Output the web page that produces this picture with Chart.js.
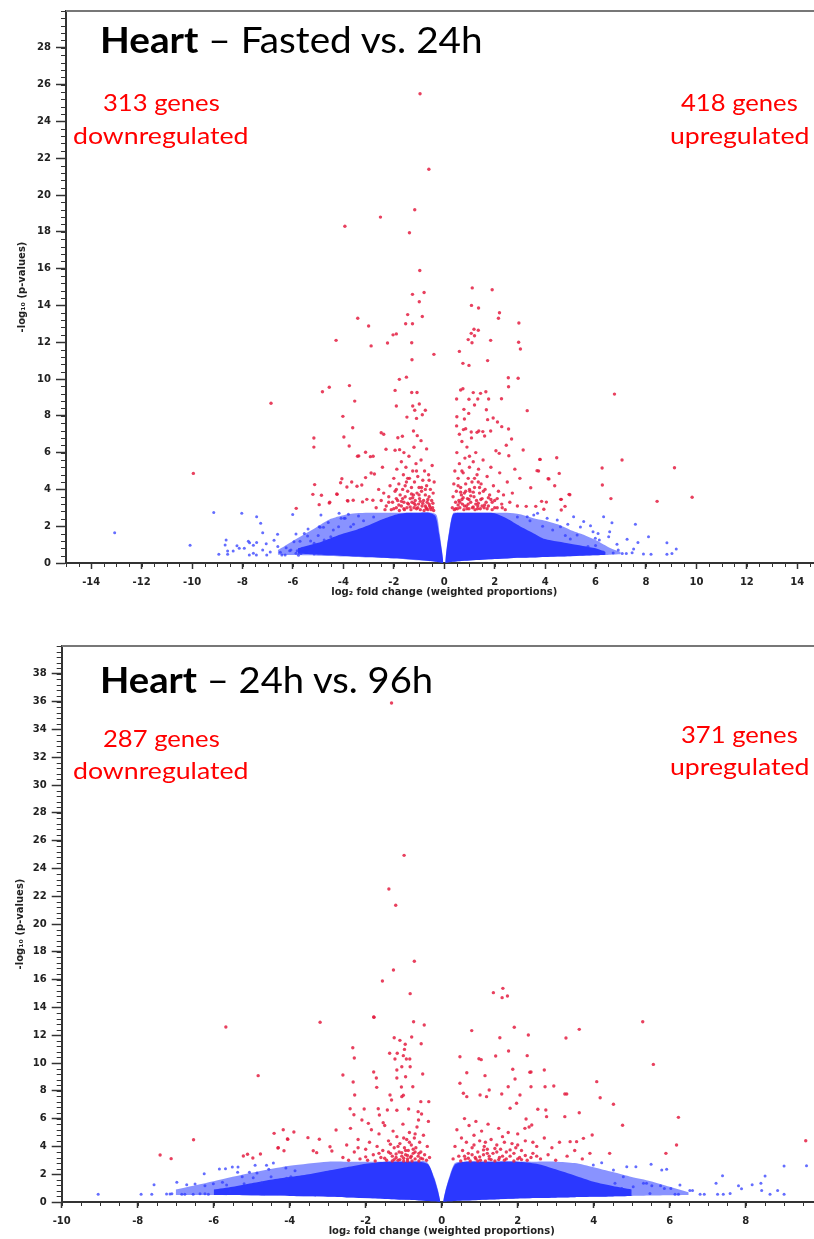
<!DOCTYPE html>
<html>
<head>
<meta charset="utf-8">
<title>Heart volcano plots</title>
<script src="https://cdn.jsdelivr.net/npm/chart.js@4.4.1/dist/chart.umd.min.js"></script>
<style>
  html, body { margin: 0; padding: 0; background: #fff; }
  body { width: 814px; height: 1239px; overflow: hidden; position: relative; }
  .panel { position: absolute; left: 0; }
  .label { position: absolute; white-space: nowrap; line-height: 1; transform-origin: 0 0;
           font-family: Lato, "Open Sans", sans-serif; }
  .title { font-size: 37px; color: #000; }
  .title b { font-weight: 700; }
  .note { font-size: 23px; color: #ff0000; }
  .base-marker { display: inline-block; width: 0; height: 0; vertical-align: baseline; }
</style>
</head>
<body>
<canvas id="fastedChart" class="panel" width="840" height="605" style="top:0"></canvas>
<canvas id="laterChart" class="panel" width="840" height="619" style="top:620px"></canvas>

<div class="label title" data-left="100" data-base="53.3" data-fit="383"><b>Heart</b> – Fasted vs. 24h</div>
<div class="label note" data-center="161" data-base="110.8" data-fit="117">313 genes</div>
<div class="label note" data-center="160" data-base="143.8" data-fit="175">downregulated</div>
<div class="label note" data-center="739" data-base="110.8" data-fit="117">418 genes</div>
<div class="label note" data-center="739.5" data-base="143.8" data-fit="139">upregulated</div>

<div class="label title" data-left="100" data-base="692.7" data-fit="333"><b>Heart</b> – 24h vs. 96h</div>
<div class="label note" data-center="161" data-base="747.3" data-fit="117">287 genes</div>
<div class="label note" data-center="160" data-base="779.2" data-fit="175">downregulated</div>
<div class="label note" data-center="739" data-base="742.8" data-fit="117">371 genes</div>
<div class="label note" data-center="739.5" data-base="775.4" data-fit="139">upregulated</div>

<script>
// ---------------------------------------------------------------
// Data: [log2 fold change, -log10 p-value]
// ---------------------------------------------------------------

// Top panel: Fasted vs. 24h
const fastedDownGenes = [
  [-0.96,25.5],[-0.61,21.4],[-1.17,19.2],[-2.53,18.8],[-3.94,18.3],[-1.38,17.95],[-0.97,15.9],
  [-1.26,14.6],[-0.8,14.7],[-0.99,14.2],[-1.45,13.5],[-0.87,13.4],[-3.43,13.3],[-3.0,12.88],
  [-1.53,13.0],[-1.26,13.0],[-4.29,12.1],[-2.9,11.8],[-2.25,11.96],[-2.03,12.4],[-1.9,12.45],
  [-1.29,11.97],[-1.28,11.05],[-0.41,11.34],[-1.78,9.98],[-1.5,10.1],[-1.95,9.38],[-1.29,9.27],
  [-1.08,9.27],[-4.83,9.31],[-4.56,9.55],[-3.76,9.64],[-3.55,8.8],[-6.87,8.68],[-1.9,8.53],
  [-1.25,8.53],[-0.99,8.64],[-1.17,8.3],[-0.75,8.3],[-0.87,8.06],[-1.48,7.93],[-1.1,7.86],
  [-4.02,7.97],[-3.63,7.35],[-5.17,6.79],[-5.17,6.3],[-3.98,6.85],[-3.77,6.36],[-2.5,7.08],
  [-2.4,7.0],[-1.84,6.81],[-1.66,6.89],[-1.07,6.92],[-0.92,6.65],[-1.22,7.17],[-3.39,5.82],
  [-3.12,6.02],[-2.82,5.8],[-2.31,6.18],[-1.95,6.13],[-1.77,6.16],[-1.2,6.29],[-9.95,4.87],
  [-5.14,4.26],[-5.21,3.73],[-4.87,3.68],[-4.96,3.17],[-4.54,3.3],[-5.87,2.97],[-4.06,4.58],
  [-4.11,4.36],[-4.25,3.73],[-3.82,3.37],[-3.61,3.41],[-3.86,4.13],[-3.67,4.4],[-3.46,4.17],
  [-3.27,4.24],[-3.12,4.64],[-2.9,4.89],[-2.77,4.84],[-3.24,3.32],[-3.07,3.46],[-2.83,3.41],
  [-3.44,5.8],[-2.93,5.78],[-4.26,3.75],[-4.56,3.26],[-3.84,3.39],
  [-2.3,3.1],[-2.2,3.6],[-2.15,4.2],[-2.1,2.9],[-2.05,3.3],[-2.0,4.6],[-1.95,3.9],[-1.9,3.0],
  [-1.88,5.1],[-1.85,3.4],[-1.8,4.3],[-1.78,2.85],[-1.75,3.7],[-1.7,5.5],[-1.7,3.1],[-1.65,4.0],
  [-1.62,4.8],[-1.6,3.3],[-1.58,2.9],[-1.55,3.6],[-1.52,5.2],[-1.5,4.4],[-1.48,3.0],[-1.45,3.9],
  [-1.42,3.2],[-1.4,5.8],[-1.38,4.6],[-1.35,3.5],[-1.32,2.9],[-1.3,4.1],[-1.28,3.3],[-1.25,5.0],
  [-1.22,3.7],[-1.2,3.0],[-1.18,4.4],[-1.15,3.4],[-1.12,5.4],[-1.1,2.95],[-1.08,3.8],[-1.05,4.7],
  [-1.02,3.2],[-1.0,4.1],[-0.98,3.5],[-0.95,2.9],[-0.92,5.6],[-0.9,3.9],[-0.88,3.1],[-0.85,4.5],
  [-0.82,3.4],[-0.8,2.85],[-0.78,5.0],[-0.75,3.7],[-0.72,3.0],[-0.7,4.2],[-0.68,3.3],[-0.65,2.9],
  [-0.62,4.8],[-0.6,3.6],[-0.58,3.1],[-0.55,4.0],[-0.52,2.9],[-0.5,3.4],[-0.48,5.3],[-0.46,3.0],
  [-0.44,3.8],[-0.42,2.85],[-0.4,4.4],[-2.6,4.0],[-2.45,5.2],[-2.7,3.0],[-1.6,6.0],[-0.7,6.2],
  [-2.5,3.4],[-2.35,2.9],[-1.9,3.5],[-1.7,3.35],[-1.45,3.25],[-1.25,3.55],[-1.05,3.0],[-0.85,3.25],
  [-0.65,3.45],[-0.55,3.0],[-1.55,4.2],[-1.0,3.7],[-0.75,4.0],
  [-2.0,2.95],[-1.8,3.15],[-1.6,2.95],[-1.35,3.05],[-1.15,3.15],[-0.95,3.35],[-0.75,3.1],
  [-0.6,3.2],[-0.45,3.25],[-1.9,4.0],[-1.3,3.75],[-0.9,4.1],[-1.45,4.6],[-1.1,5.0],[-0.6,4.5],
  [-2.2,3.3],[-2.4,3.8],[-1.65,3.5],[-1.2,3.25],[-0.7,2.95]
];
const fastedUpGenes = [
  [1.11,14.95],[1.9,14.85],[1.08,14.0],[1.36,13.86],[2.19,13.6],[2.15,13.3],[0.6,11.5],
  [0.74,10.85],[0.98,10.74],[2.96,13.04],[2.95,12.0],[3.02,11.63],[1.18,12.7],[1.35,12.65],
  [1.07,12.48],[1.2,12.35],[1.1,11.97],[0.95,12.14],[1.84,12.1],[1.72,11.0],[2.54,10.07],
  [2.93,10.04],[2.55,9.58],[3.29,8.28],[0.65,9.4],[0.74,9.47],[0.49,8.91],[0.98,8.9],[1.15,9.26],
  [1.33,8.91],[1.44,9.22],[1.65,9.31],[1.76,8.91],[2.27,8.93],[0.78,8.35],[0.97,8.13],[1.2,8.59],
  [1.67,8.33],[1.94,7.88],[2.11,7.66],[2.28,7.41],[2.55,7.28],[0.5,7.95],[0.8,7.83],[0.49,7.45],
  [0.76,7.25],[1.07,7.12],[1.37,7.17],[1.53,7.14],[1.72,7.79],[1.84,7.17],[3.13,6.14],[2.67,6.74],
  [2.46,6.4],[2.18,5.96],[2.56,5.83],[3.79,5.63],[4.46,5.72],[3.74,5.0],[4.56,4.87],[4.15,4.57],
  [4.38,4.2],[3.43,4.09],[3.86,3.35],[4.05,3.31],[4.64,3.46],[4.79,3.08],[4.95,3.73],[3.25,3.08],
  [3.63,3.08],[3.95,2.92],[4.64,2.88],[6.75,9.18],[7.05,5.6],[9.13,5.18],[9.83,3.57],[8.44,3.35],
  [6.26,5.16],[6.27,4.24],[6.61,3.5],[3.8,5.63],[4.98,3.71],[4.62,3.46],[4.12,4.58],[3.68,5.02],
  [0.32,3.0],[0.35,3.6],[0.38,4.3],[0.4,2.9],[0.42,5.0],[0.45,3.3],[0.48,3.9],[0.5,6.0],[0.52,2.95],
  [0.55,4.6],[0.58,3.4],[0.6,5.4],[0.62,3.0],[0.65,4.1],[0.68,3.7],[0.7,6.6],[0.72,3.2],[0.75,4.9],
  [0.78,2.9],[0.8,3.8],[0.82,5.7],[0.85,4.3],[0.88,3.1],[0.9,6.3],[0.92,3.5],[0.95,4.6],[0.98,2.95],
  [1.0,5.2],[1.02,3.9],[1.05,3.3],[1.08,6.8],[1.1,4.4],[1.12,3.0],[1.15,5.5],[1.18,3.6],[1.2,4.1],
  [1.22,2.9],[1.25,6.0],[1.28,3.4],[1.3,4.8],[1.33,3.1],[1.36,5.1],[1.4,3.8],[1.43,2.95],[1.46,4.3],
  [1.5,3.5],[1.54,5.6],[1.58,3.0],[1.62,4.0],[1.66,3.3],[1.7,4.7],[1.75,3.1],[1.8,3.7],[1.85,5.2],
  [1.9,2.9],[1.95,4.2],[2.0,3.4],[2.05,6.1],[2.1,3.0],[2.15,3.9],[2.2,4.9],[2.28,3.2],[2.35,3.7],
  [2.42,2.9],[2.5,4.4],[2.6,3.3],[2.7,3.8],[2.8,5.1],[2.9,3.1],[3.0,4.6],[0.6,7.0],[0.85,7.3],
  [1.3,7.1],[1.6,6.9],[0.95,3.2],[1.15,3.05],[0.7,3.45],[1.35,3.25],
  [0.55,3.15],[0.75,3.55],[0.9,2.95],[1.05,3.65],[1.25,3.2],[1.45,3.45],[1.6,3.15],[1.75,3.55],
  [1.9,3.3],[2.1,3.5],[0.65,3.85],[1.0,4.0],[1.4,4.1],[2.3,3.0],
  [0.45,2.95],[0.62,3.3],[0.8,3.1],[0.98,3.45],[1.15,3.85],[1.32,2.95],[1.5,3.1],[1.7,2.95],
  [1.85,3.45],[2.0,3.0],[0.55,4.2],[0.85,3.9],[1.2,4.6],[1.55,3.9],[0.7,5.0],[1.0,5.8],[1.35,4.4]
];
const fastedOtherGenes = [
  [-13.07,1.65],[-10.08,0.96],[-9.14,2.75],[-8.94,0.47],[-8.65,1.25],[-8.69,0.98],[-8.59,0.65],
  [-8.59,0.47],[-8.37,0.65],[-8.22,0.94],[-8.13,0.8],[-8.03,2.7],[-7.93,0.8],[-7.77,1.18],
  [-7.72,1.1],[-7.73,0.43],[-7.57,0.53],[-7.45,0.43],[-7.57,0.96],[-7.44,1.12],[-7.44,2.52],
  [-7.28,2.16],[-7.2,1.65],[-7.06,1.05],[-7.04,0.43],[-6.75,1.23],[-6.61,1.56],[-6.5,0.58],
  [-6.44,0.43],[-6.31,0.43],[-6.27,0.83],[-6.13,0.67],[-6.08,0.71],[-6.01,2.63],[-5.96,1.16],
  [-5.88,1.58],[-5.88,0.53],[-5.83,0.67],[-5.78,0.42],[-5.72,1.18],[-5.55,1.61],[-5.42,1.47],
  [-4.96,1.97],[-4.89,2.61],[-5.16,1.07],[-4.76,1.25],[-4.5,1.43],[-4.17,2.7],[-3.97,2.43],
  [-3.71,1.97],[-5.68,0.52],[-5.62,0.8],[-5.36,0.61],[-5.16,0.49],[-4.92,1.94],[-4.79,1.94],
  [-4.19,1.97],[-4.09,2.43],[-3.93,2.43],[-3.2,2.3],[-2.8,2.5],[-3.6,2.1],[-4.4,1.8],[-5.0,1.5],
  [-5.3,1.2],[-6.6,0.9],[-6.9,0.6],[-7.2,0.7],[-4.6,2.2],[-3.8,2.65],[-3.4,2.55],[-5.4,1.85],
  [7.58,2.1],[8.1,1.43],[8.83,1.1],[9.2,0.76],[8.2,0.47],[7.9,0.49],[8.83,0.47],[9.03,0.51],
  [7.06,0.51],[7.22,0.51],[7.45,0.56],[7.51,0.76],[7.68,1.12],[7.25,1.29],[6.85,1.02],[6.52,1.43],
  [6.65,2.19],[6.32,2.52],[6.56,1.7],[5.53,2.25],[5.8,2.03],[5.9,1.7],[5.99,1.34],[6.15,1.25],
  [5.13,2.52],[4.61,1.97],[5.27,1.52],[4.48,2.34],[4.08,2.43],[3.55,2.61],[3.29,2.52],[6.3,0.6],
  [6.7,0.55],[6.9,0.7],[5.7,0.9],[6.0,0.95],[4.8,1.5],[5.0,1.3],[4.3,1.8],[3.9,2.0],[3.4,2.3],[2.9,2.5],
  [3.7,2.7],[4.9,2.1],[5.4,1.95],[6.1,1.6]
];
// dense cloud of non-significant genes, traced as lower/upper outlines
const fastedLeftHaloX  = [-6.6, -6.0, -5.5, -5.0, -4.5, -4.0, -3.5, -3.0, -2.0, -1.0, -0.5, -0.3, -0.18, -0.1, -0.04];
const fastedLeftHaloHi = [0.7, 1.2, 1.6, 2.0, 2.4, 2.6, 2.7, 2.73, 2.73, 2.73, 2.73, 2.6, 1.6, 0.8, 0.1];
const fastedLeftHaloLo = [0.45, 0.43, 0.42, 0.4, 0.38, 0.35, 0.33, 0.3, 0.25, 0.15, 0.1, 0.07, 0.04, 0.02, 0];
const fastedLeftCoreX  = [-5.8, -5.0, -4.5, -4.0, -3.5, -3.0, -2.5, -2.0, -1.5, -1.0, -0.6, -0.35, -0.2, -0.1, -0.04];
const fastedLeftCoreHi = [0.8, 1.1, 1.35, 1.6, 1.8, 2.05, 2.35, 2.6, 2.73, 2.73, 2.73, 2.55, 1.55, 0.7, 0.1];
const fastedLeftCoreLo = [0.5, 0.45, 0.42, 0.38, 0.35, 0.32, 0.29, 0.26, 0.22, 0.16, 0.11, 0.07, 0.04, 0.02, 0];
const fastedRightHaloX  = [0.04, 0.1, 0.2, 0.35, 0.6, 1.5, 2.5, 3.0, 3.5, 4.0, 4.5, 5.0, 5.5, 6.0, 6.6, 7.0];
const fastedRightHaloHi = [0.1, 0.85, 1.8, 2.7, 2.73, 2.73, 2.73, 2.65, 2.45, 2.3, 2.1, 1.8, 1.55, 1.25, 0.8, 0.6];
const fastedRightHaloLo = [0, 0.02, 0.04, 0.07, 0.1, 0.18, 0.25, 0.28, 0.3, 0.33, 0.35, 0.37, 0.4, 0.42, 0.45, 0.47];
const fastedRightCoreX  = [0.04, 0.1, 0.2, 0.35, 0.6, 1.0, 1.5, 2.0, 2.5, 3.0, 3.5, 4.0, 5.0, 6.0, 6.4];
const fastedRightCoreHi = [0.1, 0.8, 1.7, 2.65, 2.73, 2.73, 2.73, 2.7, 2.4, 2.0, 1.65, 1.3, 1.05, 0.8, 0.6];
const fastedRightCoreLo = [0, 0.02, 0.04, 0.07, 0.1, 0.14, 0.18, 0.22, 0.25, 0.28, 0.3, 0.33, 0.37, 0.42, 0.45];

// Bottom panel: 24h vs. 96h
const laterDownGenes = [
  [-1.32,35.9],[-0.99,24.94],[-1.39,22.52],[-1.21,21.35],[-0.72,17.32],[-1.27,16.69],[-1.56,15.9],
  [-0.83,14.99],[-1.78,13.29],[-5.68,12.59],[-3.2,12.93],[-1.79,13.31],[-0.74,12.97],[-0.46,12.73],
  [-4.83,9.09],[-6.53,4.48],[-7.41,3.38],[-7.12,3.12],[-1.25,11.82],[-1.1,11.63],[-0.96,11.35],
  [-0.79,11.87],[-0.54,11.39],[-1.37,10.7],[-1.23,10.29],[-1.01,10.53],[-0.93,10.29],[-0.84,10.29],
  [-0.98,10.98],[-2.34,11.1],[-2.3,10.36],[-2.6,9.14],[-2.33,8.63],[-2.29,7.7],[-1.79,9.35],
  [-1.72,8.92],[-1.71,8.25],[-1.18,9.5],[-1.18,8.92],[-1.05,9.73],[-0.95,9.01],[-0.76,8.29],
  [-0.5,9.21],[-1.06,8.27],[-1.36,7.7],[-1.32,7.34],[-1.05,7.58],[-1.01,7.68],[-0.55,7.22],
  [-0.34,7.22],[-2.41,6.71],[-2.04,6.69],[-1.67,6.71],[-2.31,6.28],[-1.93,5.66],[-1.64,6.26],
  [-1.54,5.71],[-1.43,6.62],[-1.18,6.6],[-0.87,6.69],[-0.62,6.5],[-0.53,6.33],[-0.61,5.9],
  [-4.41,4.94],[-4.17,5.2],[-3.89,5.04],[-4.31,3.88],[-4.15,3.69],[-4.05,4.51],[-3.52,4.63],
  [-3.22,4.51],[-3.38,3.69],[-3.29,3.55],[-5.22,3.31],[-5.11,3.43],[-4.97,3.17],[-4.77,3.45],
  [-2.78,5.18],[-2.94,3.98],[-2.89,3.67],[-1.17,10.7],[-0.83,9.73],[-4.3,3.91],[-4.06,4.53],
  [-2.6,3.2],[-2.5,4.1],[-2.45,3.0],[-2.4,5.3],[-2.3,3.6],[-2.2,4.5],[-2.15,3.1],[-2.1,5.9],
  [-2.0,3.8],[-1.95,3.0],[-1.9,4.3],[-1.85,5.2],[-1.8,3.4],[-1.75,2.95],[-1.7,4.0],[-1.65,4.9],
  [-1.6,3.2],[-1.55,3.7],[-1.5,5.5],[-1.45,3.0],[-1.4,4.4],[-1.35,3.5],[-1.3,2.95],[-1.28,5.1],
  [-1.25,3.9],[-1.2,3.2],[-1.18,4.7],[-1.15,3.0],[-1.12,3.6],[-1.1,4.2],[-1.05,3.3],[-1.02,5.6],
  [-1.0,2.95],[-0.98,3.9],[-0.95,3.4],[-0.92,4.5],[-0.9,3.1],[-0.88,3.7],[-0.85,5.0],[-0.82,3.2],
  [-0.8,4.1],[-0.78,2.95],[-0.75,3.5],[-0.72,4.6],[-0.7,3.1],[-0.68,3.9],[-0.65,5.4],[-0.62,3.3],
  [-0.6,2.95],[-0.58,4.3],[-0.55,3.6],[-0.5,3.1],[-0.48,4.8],[-0.45,3.4],[-0.4,3.0],[-0.38,4.0],
  [-0.35,5.8],[-0.32,3.2],[-1.1,3.05],[-0.9,3.35],[-1.3,3.3],[-0.7,3.6],
  [-1.2,3.45],[-1.0,3.15],[-0.8,3.3],[-0.6,3.5],[-1.4,3.6],[-0.95,3.7],[-1.15,4.0],[-0.85,4.3],
  [-1.25,3.05],[-1.05,3.55],[-0.9,2.95],[-0.75,3.8],[-0.55,3.15],[-1.5,3.15],[-1.65,3.5],
  [-1.35,4.15],[-1.0,4.6],[-0.7,4.9],[-2.0,3.25],[-2.2,3.9]
];
const laterUpGenes = [
  [1.36,15.06],[1.61,15.37],[1.59,14.7],[1.73,14.82],[0.79,12.33],[1.91,12.57],[1.53,11.82],
  [2.28,12.01],[3.27,11.8],[0.48,10.45],[0.98,10.31],[1.04,10.24],[0.66,9.3],[1.14,9.09],
  [1.42,10.5],[1.76,10.86],[1.87,9.55],[1.93,8.85],[2.35,9.35],[2.25,10.53],[2.7,9.5],[2.95,8.35],
  [3.24,7.77],[0.48,8.54],[0.57,7.82],[0.66,7.58],[1.01,7.7],[1.18,7.58],[1.25,8.06],[1.58,7.77],
  [1.75,8.29],[2.06,7.7],[2.35,8.29],[2.72,8.29],[1.97,7.1],[1.8,6.74],[2.22,5.97],[2.53,6.67],
  [2.74,6.62],[2.76,6.14],[2.37,5.54],[2.19,5.3],[5.29,12.97],[5.57,9.9],[4.08,8.66],[4.17,7.5],
  [4.52,7.03],[4.76,5.52],[6.23,6.09],[6.18,4.1],[5.9,3.5],[4.42,3.5],[9.58,4.41],[3.96,4.82],
  [3.73,4.58],[3.55,4.34],[3.38,4.34],[3.24,6.14],[3.29,7.77],[3.62,6.42],[3.62,12.42],[2.32,9.33],
  [0.3,3.1],[0.35,4.0],[0.4,5.2],[0.45,3.3],[0.5,2.95],[0.52,4.6],[0.55,3.7],[0.6,6.0],[0.62,3.1],
  [0.65,4.3],[0.7,3.5],[0.72,5.5],[0.75,2.95],[0.8,3.9],[0.85,4.8],[0.88,3.2],[0.9,5.8],[0.95,3.6],
  [1.0,4.4],[1.02,3.0],[1.05,5.1],[1.1,3.4],[1.12,4.0],[1.15,2.95],[1.2,3.8],[1.22,5.6],[1.25,3.1],
  [1.3,4.5],[1.35,3.5],[1.4,2.95],[1.45,4.1],[1.5,5.3],[1.52,3.2],[1.55,3.8],[1.6,4.7],[1.65,3.0],
  [1.7,3.6],[1.75,5.0],[1.8,3.3],[1.85,4.2],[1.9,2.95],[1.95,3.9],[2.0,4.9],[2.05,3.2],[2.1,3.7],
  [2.2,4.4],[2.25,3.0],[2.3,5.4],[2.4,3.5],[2.5,4.0],[2.6,3.1],[2.7,4.6],[2.8,3.4],[2.9,3.9],
  [3.0,3.0],[3.1,4.3],[3.3,3.3],[3.5,3.7],[3.7,3.1],[3.9,3.5],[1.0,3.25],[1.3,3.05],[0.8,3.4],[1.6,3.3],
  [0.6,3.3],[0.9,3.1],[1.2,3.5],[1.5,3.05],[1.8,3.75],[2.0,3.1],[2.2,3.35],[2.5,3.3],[1.1,3.75],
  [0.7,3.15],[0.95,2.95],[1.25,3.3],[1.45,3.6],[1.7,3.1],[1.9,3.5],[2.1,3.05],[2.35,3.2],
  [0.85,4.1],[1.15,4.3],[1.4,3.85],[1.65,4.3],[2.0,4.1],[2.4,4.3]
];
const laterOtherGenes = [
  [-9.04,0.55],[-7.91,0.55],[-7.63,0.55],[-7.57,1.25],[-7.24,0.57],[-7.15,0.57],[-7.1,0.6],
  [-6.97,1.42],[-6.84,0.55],[-6.76,0.55],[-6.71,1.25],[-6.54,0.55],[-6.49,1.29],[-6.25,2.04],
  [-6.36,0.6],[-6.23,0.6],[-6.14,0.55],[-6.23,1.17],[-6.01,1.32],[-5.85,2.37],[-5.69,2.4],
  [-5.77,1.42],[-5.66,1.22],[-5.57,0.79],[-5.51,2.52],[-5.36,2.52],[-5.37,2.14],[-5.25,1.82],
  [-5.2,1.32],[-5.06,2.14],[-4.96,1.75],[-4.91,2.64],[-4.86,2.09],[-4.74,1.37],[-4.61,2.64],
  [-4.55,2.35],[-4.49,1.82],[-4.43,2.81],[-4.1,2.45],[-4.08,1.7],[-3.86,2.25],[-3.97,1.82],
  [5.51,2.71],[5.79,2.3],[5.92,2.35],[6.27,1.22],[6.03,0.98],[6.14,0.55],[6.23,0.55],[6.53,0.82],
  [6.6,0.82],[6.8,0.55],[6.91,0.55],[7.22,1.34],[7.26,0.55],[7.39,1.89],[7.41,0.55],[7.59,0.62],
  [7.81,1.17],[7.89,0.96],[8.17,1.25],[8.4,1.34],[8.51,1.87],[8.42,0.82],[8.64,0.55],[8.84,0.82],
  [9.01,0.55],[9.01,2.59],[3.99,2.66],[4.21,2.83],[4.52,2.3],[4.78,1.82],[4.87,2.54],[5.11,2.54],
  [5.39,1.34],[5.53,1.17],[5.76,1.17],[5.48,0.62],[5.86,0.98],[4.56,1.34],[4.74,0.98],[5.04,1.1],
  [5.31,1.34],[9.6,2.6]
];
const laterLeftHaloX  = [-7.0, -6.0, -5.0, -4.0, -3.0, -2.5, -1.5, -0.8, -0.4, -0.2, -0.1, -0.04];
const laterLeftHaloHi = [0.9, 1.5, 2.1, 2.6, 2.9, 2.9, 2.9, 2.9, 2.9, 1.8, 0.9, 0.1];
const laterLeftHaloLo = [0.5, 0.5, 0.47, 0.44, 0.38, 0.33, 0.22, 0.14, 0.08, 0.05, 0.03, 0];
const laterLeftCoreX  = [-6.0, -5.5, -5.0, -4.5, -4.0, -3.5, -3.0, -2.5, -2.0, -1.5, -1.0, -0.6, -0.35, -0.2, -0.1, -0.04];
const laterLeftCoreHi = [0.9, 1.1, 1.35, 1.6, 1.8, 2.0, 2.25, 2.5, 2.75, 2.9, 2.9, 2.9, 2.7, 1.7, 0.8, 0.1];
const laterLeftCoreLo = [0.5, 0.5, 0.48, 0.46, 0.44, 0.41, 0.38, 0.33, 0.28, 0.22, 0.16, 0.11, 0.07, 0.05, 0.03, 0];
const laterRightHaloX  = [0.04, 0.1, 0.2, 0.35, 0.6, 2.5, 3.0, 3.5, 4.0, 4.5, 5.0, 5.5, 6.0, 6.5];
const laterRightHaloHi = [0.1, 0.85, 1.8, 2.8, 2.9, 2.9, 2.9, 2.8, 2.5, 2.15, 1.8, 1.5, 1.1, 0.7];
const laterRightHaloLo = [0, 0.03, 0.05, 0.07, 0.1, 0.28, 0.31, 0.34, 0.37, 0.4, 0.43, 0.46, 0.48, 0.5];
const laterRightCoreX  = [0.04, 0.1, 0.2, 0.35, 0.6, 1.0, 1.5, 2.0, 2.5, 3.0, 3.5, 4.0, 4.5, 5.0];
const laterRightCoreHi = [0.1, 0.8, 1.7, 2.7, 2.9, 2.9, 2.9, 2.9, 2.75, 2.35, 1.9, 1.45, 1.15, 0.9];
const laterRightCoreLo = [0, 0.03, 0.05, 0.07, 0.1, 0.15, 0.2, 0.25, 0.28, 0.31, 0.34, 0.37, 0.4, 0.43];

// ---------------------------------------------------------------
// Chart construction
// ---------------------------------------------------------------
const VolcanoPage = (function() {
  'use strict';

  const COLORS = {
    sig: 'rgba(228, 30, 66, 0.85)',
    other: 'rgba(48, 60, 255, 0.75)',
    core: 'rgba(38, 52, 255, 0.95)',
    halo: 'rgba(64, 80, 255, 0.62)',
    axis: '#333',
    frame: '#777',
    text: '#222'
  };

  const AXIS_FONT = { family: 'DejaVu Sans', weight: 'bold', size: 10 };

  function toPoints(pairs) {
    return pairs.map(p => ({ x: p[0], y: p[1] }));
  }

  // major ticks at every even value inside the range (the range ends need not be even)
  function evenTicks(scale, max) {
    const ticks = [];
    for (let v = Math.ceil(scale.min / 2) * 2; v < max - 1e-9; v += 2) ticks.push({ value: v });
    scale.ticks = ticks;
  }

  // lower outline + upper outline filled against it
  function band(xs, lo, hi, color, order) {
    return [
      { type: 'line', data: xs.map((x, i) => ({ x: x, y: lo[i] })), borderWidth: 0,
        pointRadius: 0, fill: false, tension: 0.25, order: order },
      { type: 'line', data: xs.map((x, i) => ({ x: x, y: hi[i] })), borderWidth: 0,
        pointRadius: 0, fill: '-1', backgroundColor: color, tension: 0.25, order: order }
    ];
  }

  function dots(pairs, color, radius, order) {
    return { data: toPoints(pairs), backgroundColor: color, borderWidth: 0,
      pointRadius: radius, pointBorderWidth: 0, order: order };
  }

  // minor tick marks + top frame line
  const frameTicks = {
    id: 'frameTicks',
    afterDraw(chart, args, opts) {
      const { ctx, chartArea: a, scales: { x, y } } = chart;
      ctx.save();
      ctx.strokeStyle = COLORS.axis;
      ctx.lineWidth = 1;
      ctx.beginPath();
      for (let i = 0; ; i++) {
        const v = x.min + i * opts.xStep;
        if (v > x.max + 1e-9) break;
        const px = Math.round(x.getPixelForValue(v)) + 0.5;
        ctx.moveTo(px, a.bottom);
        ctx.lineTo(px, a.bottom + 4);
      }
      for (let i = 0; ; i++) {
        const v = y.min + i * opts.yStep;
        if (v > y.max + 1e-9) break;
        const py = Math.round(y.getPixelForValue(v)) + 0.5;
        ctx.moveTo(a.left - 5, py);
        ctx.lineTo(a.left, py);
      }
      ctx.stroke();
      ctx.strokeStyle = COLORS.frame;
      ctx.lineWidth = 2;
      ctx.beginPath();
      ctx.moveTo(a.left, a.top);
      ctx.lineTo(a.right, a.top);
      ctx.stroke();
      ctx.restore();
    }
  };

  function createVolcano(canvasId, cfg) {
    const ctx = document.getElementById(canvasId)?.getContext('2d');
    if (!ctx) return null;

    const datasets = [
      dots(cfg.down, COLORS.sig, 1.7, 0),
      dots(cfg.up, COLORS.sig, 1.7, 0),
      dots(cfg.other, COLORS.other, 1.5, 1)
    ]
      .concat(band(cfg.leftCore[0], cfg.leftCore[1], cfg.leftCore[2], COLORS.core, 2))
      .concat(band(cfg.rightCore[0], cfg.rightCore[1], cfg.rightCore[2], COLORS.core, 2))
      .concat(band(cfg.leftHalo[0], cfg.leftHalo[1], cfg.leftHalo[2], COLORS.halo, 3))
      .concat(band(cfg.rightHalo[0], cfg.rightHalo[1], cfg.rightHalo[2], COLORS.halo, 3));

    return new Chart(ctx, {
      type: 'scatter',
      data: { datasets: datasets },
      options: {
        responsive: false,
        animation: false,
        events: [],
        layout: { padding: cfg.padding },
        plugins: {
          legend: { display: false },
          tooltip: { enabled: false },
          frameTicks: { xStep: 0.5, yStep: 0.4 }
        },
        scales: {
          x: {
            type: 'linear', min: cfg.xMin, max: cfg.xMax,
            afterBuildTicks: s => evenTicks(s, cfg.xMax),
            afterFit: s => { s.height = cfg.xAxisHeight; },
            ticks: { autoSkip: false, maxRotation: 0, color: COLORS.text, font: AXIS_FONT, padding: 7 },
            grid: { display: true, drawOnChartArea: false, drawTicks: true, tickLength: 6,
                    tickColor: COLORS.axis, tickWidth: 1.5 },
            border: { display: true, color: COLORS.axis, width: 2 },
            title: { display: true, text: 'log₂ fold change (weighted proportions)', color: COLORS.text,
                     font: AXIS_FONT, padding: { top: 0, bottom: cfg.xTitlePad } }
          },
          y: {
            type: 'linear', min: 0, max: cfg.yMax,
            afterBuildTicks: s => evenTicks(s, cfg.yMax),
            afterFit: s => { s.width = cfg.yAxisWidth; },
            ticks: { autoSkip: false, color: COLORS.text, font: AXIS_FONT, padding: 5 },
            grid: { display: true, drawOnChartArea: false, drawTicks: true, tickLength: 10,
                    tickColor: COLORS.axis, tickWidth: 1.5 },
            border: { display: true, color: COLORS.axis, width: 2 },
            title: { display: true, text: '-log₁₀ (p-values)', color: COLORS.text,
                     font: AXIS_FONT, padding: { top: cfg.yTitlePad, bottom: 0 } }
          }
        }
      },
      plugins: [frameTicks]
    });
  }

  // fit each overlay label to the measured width and put its baseline in place
  function placeLabels() {
    document.querySelectorAll('.label').forEach(el => {
      const marker = document.createElement('span');
      marker.className = 'base-marker';
      el.appendChild(marker);
      const natural = el.offsetWidth;
      const baseOffset = marker.offsetTop;
      const fit = parseFloat(el.dataset.fit);
      el.style.transform = 'scaleX(' + (fit / natural) + ')';
      const left = el.dataset.center ? parseFloat(el.dataset.center) - fit / 2 : parseFloat(el.dataset.left);
      el.style.left = left + 'px';
      el.style.top = (parseFloat(el.dataset.base) - baseOffset) + 'px';
    });
  }

  function init() {
    Chart.defaults.font.family = 'DejaVu Sans';

    createVolcano('fastedChart', {
      xMin: -15, xMax: 15, yMax: 30,
      padding: { left: 0, top: 11, right: 17.5, bottom: 0 },
      yAxisWidth: 66, xAxisHeight: 42, xTitlePad: 6.5, yTitlePad: 16,
      down: fastedDownGenes, up: fastedUpGenes, other: fastedOtherGenes,
      leftCore: [fastedLeftCoreX, fastedLeftCoreLo, fastedLeftCoreHi],
      rightCore: [fastedRightCoreX, fastedRightCoreLo, fastedRightCoreHi],
      leftHalo: [fastedLeftHaloX, fastedLeftHaloLo, fastedLeftHaloHi],
      rightHalo: [fastedRightHaloX, fastedRightHaloLo, fastedRightHaloHi]
    });

    createVolcano('laterChart', {
      xMin: -10, xMax: 10, yMax: 40,
      padding: { left: 0, top: 26, right: 18.3, bottom: 0 },
      yAxisWidth: 61.7, xAxisHeight: 37, xTitlePad: 2, yTitlePad: 14,
      down: laterDownGenes, up: laterUpGenes, other: laterOtherGenes,
      leftCore: [laterLeftCoreX, laterLeftCoreLo, laterLeftCoreHi],
      rightCore: [laterRightCoreX, laterRightCoreLo, laterRightCoreHi],
      leftHalo: [laterLeftHaloX, laterLeftHaloLo, laterLeftHaloHi],
      rightHalo: [laterRightHaloX, laterRightHaloLo, laterRightHaloHi]
    });

    placeLabels();
  }

  return { init };
})();

if (document.fonts && document.fonts.ready) {
  document.fonts.ready.then(VolcanoPage.init);
} else {
  VolcanoPage.init();
}
</script>
</body>
</html>
